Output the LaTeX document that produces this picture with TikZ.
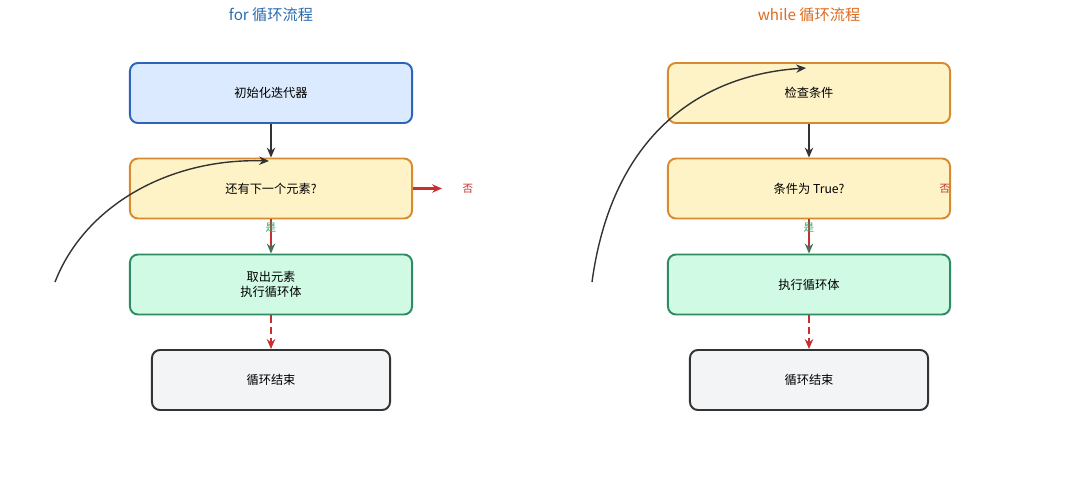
\documentclass[tikz,border=0pt]{standalone}
\usepackage{fontspec}
\setmainfont{Noto Sans CJK SC}
\usetikzlibrary{arrows.meta}
\definecolor{bluefill}{HTML}{DBEAFE}
\definecolor{bluedraw}{HTML}{2B64B8}
\definecolor{yelfill}{HTML}{FEF3C7}
\definecolor{yeldraw}{HTML}{D88A2E}
\definecolor{grnfill}{HTML}{D1FAE5}
\definecolor{grndraw}{HTML}{2E8B62}
\definecolor{grayfill}{HTML}{F3F4F6}
\definecolor{darkline}{HTML}{333333}
\definecolor{redline}{HTML}{C53030}
\definecolor{greentext}{HTML}{38A169}
\definecolor{greenarrow}{HTML}{4A6E5A}
\definecolor{fortitle}{HTML}{2B6CB0}
\definecolor{whiletitle}{HTML}{DD6B20}
\tikzset{
  box/.style={rounded corners=0.2cm, line width=1.4pt, minimum width=7.05cm, minimum height=1.5cm, align=center, font=\fontsize{8.7}{11}\selectfont, inner sep=0pt},
  initbox/.style={box, fill=bluefill, draw=bluedraw},
  condbox/.style={box, fill=yelfill, draw=yeldraw},
  bodybox/.style={box, fill=grnfill, draw=grndraw},
  endbox/.style={box, fill=grayfill, draw=darkline, minimum width=5.95cm},
  title/.style={font=\fontsize{10.8}{12}\selectfont},
  darkarrow/.style={-{Stealth[length=7pt,width=6pt]}, line width=1.5pt, draw=darkline},
  yesarrow/.style={-{Stealth[length=7pt,width=6pt]}, line width=1.4pt, draw=greenarrow},
  noarrow/.style={-{Stealth[length=7pt,width=6pt]}, line width=1.5pt, draw=redline},
  redseg/.style={line width=1.4pt, draw=redline},
  enddash/.style={-{Stealth[length=7pt,width=6pt]}, line width=1.4pt, draw=redline, dash pattern=on 5pt off 3pt},
  loopcurve/.style={-{Stealth[length=7pt,width=6pt]}, line width=1pt, draw=darkline},
  yeslabel/.style={text=greentext, font=\fontsize{7.5}{9}\selectfont},
  nolabel/.style={text=redline, font=\fontsize{7.5}{9}\selectfont}
}
\begin{document}
\begin{tikzpicture}[x=0.025cm, y=-0.025cm]
\useasboundingbox[fill=white] (0,0) rectangle (1080,486);
% ---------- for loop ----------
\node[title, text=fortitle] (ftitle) at (271,15) {for 循环流程};
\node[initbox] (f1) at (271,93) {初始化迭代器};
\node[condbox] (f2) at (271,188.5) {还有下一个元素?};
\node[bodybox] (f3) at (271,284.5) {取出元素\\执行循环体};
\node[endbox] (f4) at (271,380) {循环结束};
\draw[darkarrow] (f1) -- (f2);
\draw[yesarrow] (f2) -- (f3);
\coordinate (f3top) at (271,246);
\draw[redseg] (f2.south) -- (f3top);
\node[yeslabel] (fyes) at (271,228) {是};
\draw[enddash] (f3) -- (f4);
\coordinate (fnoend) at (442,188.5);
\draw[noarrow] (f2.east) -- (fnoend);
\node[nolabel] (fno) at (468,188.5) {否};
\coordinate (floopstart) at (55,282);
\coordinate (floopend) at (269,161);
\draw[loopcurve] (floopstart) .. controls (85,205) and (170,158) .. (floopend);
% ---------- while loop ----------
\node[title, text=whiletitle] (wtitle) at (809,15) {while 循环流程};
\node[condbox] (w1) at (809,93) {检查条件};
\node[condbox] (w2) at (809,188.5) {条件为 True?};
\node[bodybox] (w3) at (809,284.5) {执行循环体};
\node[endbox] (w4) at (809,380) {循环结束};
\draw[darkarrow] (w1) -- (w2);
\draw[yesarrow] (w2) -- (w3);
\coordinate (w3top) at (809,246);
\draw[redseg] (w2.south) -- (w3top);
\node[yeslabel] (wyes) at (809,228) {是};
\draw[enddash] (w3) -- (w4);
\node[nolabel] (wno) at (945,188.5) {否};
\coordinate (wloopstart) at (592,282);
\coordinate (wloopend) at (806,68);
\draw[loopcurve] (wloopstart) .. controls (612,135) and (700,75) .. (wloopend);
\end{tikzpicture}
\end{document}
